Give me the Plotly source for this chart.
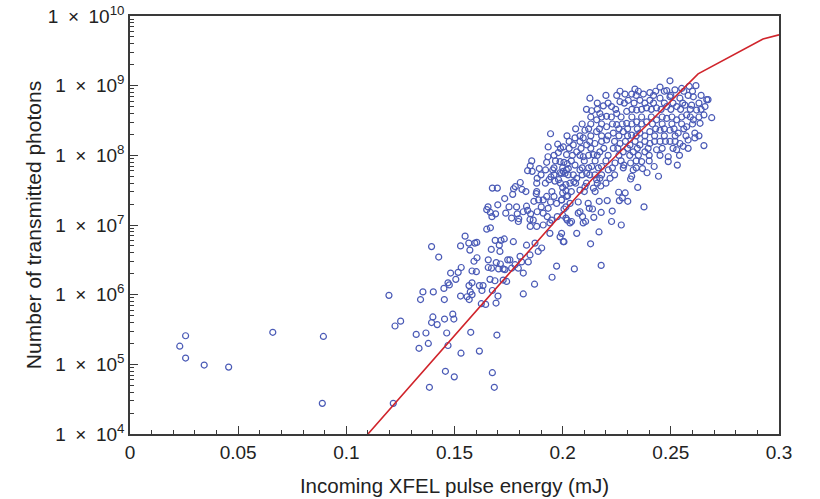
import numpy as np
import plotly.graph_objects as go

# Scatter measurements: pulse energy (mJ) and log10(number of transmitted photons)
energy_mJ = [
    0.0257, 0.0230, 0.0257, 0.0343, 0.0456, 0.0660, 0.0894, 0.0889, 0.1197, 0.1217,
    0.1225, 0.1251, 0.1400, 0.1394, 0.1420, 0.1454, 0.1492, 0.1497, 0.1323, 0.1368,
    0.1464, 0.1575, 0.1696, 0.1336, 0.1379, 0.1470, 0.1530, 0.1615, 0.1458, 0.1499,
    0.1675, 0.1384, 0.1684,
    0.1343, 0.1354, 0.1402, 0.1394, 0.1427, 0.1453, 0.1451, 0.1470, 0.1476, 0.1482,
    0.1506, 0.1517, 0.1531, 0.1528, 0.1528, 0.1549, 0.1571, 0.1566, 0.1594, 0.1603,
    0.1590, 0.1604, 0.1581, 0.1601, 0.1567, 0.1581, 0.1573, 0.1558, 0.1568, 0.1581,
    0.1615, 0.1632, 0.1627, 0.1624, 0.1644, 0.1649, 0.1666, 0.1670, 0.1656, 0.1656,
    0.1671, 0.1664, 0.1687, 0.1675, 0.1701, 0.1692, 0.1688, 0.1707, 0.1715, 0.1730,
    0.1710, 0.1712, 0.1704, 0.1693, 0.1725, 0.1746, 0.1733,
    0.1944, 0.1933, 0.1977, 0.1980, 0.1932, 0.1988, 0.2006, 0.2021, 0.1967, 0.1926,
    0.1857, 0.1850, 0.1838, 0.1859, 0.1892, 0.1882, 0.1921, 0.1954, 0.1946, 0.1937,
    0.1964, 0.1981, 0.1988, 0.2003, 0.2017, 0.2015, 0.2000, 0.2015, 0.2023, 0.1804,
    0.1781, 0.1773, 0.1812, 0.1769, 0.1732, 0.1675, 0.1698, 0.1655, 0.1649, 0.1666,
    0.1673, 0.1690, 0.1700, 0.1737, 0.1752, 0.1787, 0.1790, 0.1797, 0.1833, 0.1838,
    0.1852, 0.1849, 0.1867, 0.1878, 0.1889, 0.1910, 0.1901, 0.1882, 0.1864, 0.1926,
    0.1944, 0.1933, 0.1929, 0.1960, 0.1972, 0.1995, 0.2006, 0.1975, 0.2015, 0.1850,
    0.2000, 0.2018, 0.1995, 0.2015, 0.2034, 0.2000, 0.2021, 0.2041, 0.1995, 0.2006,
    0.2129, 0.2168, 0.2106, 0.2092, 0.2080, 0.2123, 0.2138, 0.2144, 0.2178, 0.2229,
    0.2226, 0.2271, 0.2072, 0.2118, 0.2169, 0.2206, 0.2259, 0.2289, 0.2262, 0.2301,
    0.2276, 0.2347, 0.2376, 0.2052, 0.2034, 0.2080, 0.2103, 0.2142, 0.2176, 0.2172,
    0.2219, 0.2211, 0.2180, 0.2242, 0.2283, 0.2314, 0.2326, 0.2319, 0.2314, 0.2369,
    0.2390, 0.2423, 0.2443, 0.2488, 0.2530, 0.2365, 0.2011, 0.2026, 0.2057, 0.2049,
    0.2111, 0.2134, 0.2149, 0.2157, 0.2080, 0.2065, 0.1995,
    0.2496, 0.2616, 0.2585, 0.2450, 0.2403, 0.2373, 0.2319, 0.2288, 0.2334, 0.2481,
    0.2519, 0.2550, 0.2126, 0.2666, 0.2658, 0.2689, 0.2653, 0.2604, 0.2596, 0.2619,
    0.2188, 0.2134, 0.2226, 0.2265, 0.2303, 0.2357, 0.2403, 0.2450, 0.2496, 0.2542,
    0.2172, 0.2157, 0.2203, 0.2250, 0.2296, 0.2342, 0.2388, 0.2434, 0.2481, 0.2527,
    0.2565, 0.2573, 0.2604, 0.2635, 0.2611, 0.2573, 0.2527, 0.2481, 0.2434, 0.2388,
    0.2342, 0.2296, 0.2250, 0.2203, 0.2157, 0.2103, 0.2095, 0.2057, 0.2049, 0.2065,
    0.2111, 0.2149, 0.2172, 0.2203, 0.2234, 0.2280, 0.2319, 0.2357, 0.2403, 0.2450,
    0.2496, 0.2534, 0.2611, 0.2580, 0.2542, 0.2496, 0.2450, 0.2403, 0.2357, 0.2311,
    0.2265, 0.2234, 0.2280, 0.2326, 0.2380, 0.2434, 0.2488, 0.2527, 0.2557, 0.2653,
    0.2142, 0.2095, 0.2018, 0.2003, 0.2672,
    0.1818, 0.1870, 0.1951, 0.1972, 0.2054, 0.2178, 0.1780, 0.1795, 0.1756, 0.1741,
    0.1725, 0.1818, 0.1810, 0.1841, 0.1887, 0.1872, 0.1903, 0.1833, 0.1772, 0.1849,
    0.1803, 0.1764, 0.1941, 0.1988, 0.2003, 0.1941, 0.1910, 0.1880, 0.1795, 0.1764,
    0.1818, 0.1910, 0.1949, 0.2034, 0.2065, 0.2095, 0.2072,
]
log10_photons = [
    5.41, 5.26, 5.09, 4.99, 4.96, 5.46, 5.40, 4.44, 5.99, 4.44,
    5.55, 5.62, 5.68, 5.60, 5.57, 5.65, 5.72, 5.65, 5.43, 5.45,
    5.45, 5.46, 5.42, 5.23, 5.30, 5.27, 5.16, 5.19, 4.90, 4.82,
    4.88, 4.67, 4.67,
    5.93, 6.04, 6.04, 6.69, 6.54, 5.93, 6.09, 6.17, 6.14, 6.31,
    6.22, 6.32, 6.39, 5.98, 6.70, 6.84, 6.64, 6.74, 6.74, 6.75,
    6.48, 6.53, 6.34, 6.33, 6.13, 6.17, 6.04, 5.97, 5.93, 6.00,
    6.13, 6.13, 6.06, 5.87, 5.86, 6.94, 6.96, 6.65, 6.50, 6.39,
    6.38, 6.22, 6.20, 6.06, 5.98, 5.88, 6.78, 6.71, 6.78, 6.80,
    6.62, 6.44, 6.37, 6.46, 6.37, 6.50, 6.36,
    8.31, 8.12, 8.16, 8.04, 7.98, 7.91, 7.90, 7.88, 7.92, 7.90,
    7.92, 7.85, 7.78, 7.77, 7.81, 7.67, 7.79, 7.79, 7.69, 7.65,
    7.63, 7.65, 7.75, 7.77, 7.79, 7.58, 7.54, 7.49, 7.42, 7.61,
    7.55, 7.52, 7.51, 7.44, 7.38, 7.53, 7.53, 7.26, 7.22, 7.18,
    7.12, 7.16, 7.29, 7.17, 7.26, 7.26, 7.16, 7.09, 7.27, 7.21,
    7.16, 7.08, 7.34, 7.45, 7.36, 7.36, 7.26, 7.19, 7.07, 7.41,
    7.33, 7.24, 7.12, 7.41, 7.31, 7.36, 7.23, 7.12, 7.10, 6.98,
    7.46, 7.41, 7.36, 7.26, 7.31, 7.14, 7.07, 7.05, 6.88, 6.76,
    6.73, 6.90, 7.05, 7.12, 7.19, 7.24, 7.23, 7.11, 7.18, 7.20,
    7.05, 7.00, 7.33, 7.31, 7.34, 7.35, 7.47, 7.46, 7.35, 7.34,
    7.39, 7.54, 7.26, 7.62, 7.60, 7.50, 7.55, 7.53, 7.56, 7.67,
    7.67, 7.79, 7.84, 7.89, 7.86, 7.89, 7.79, 7.70, 7.66, 7.81,
    7.75, 7.84, 7.70, 7.91, 7.86, 7.91, 7.74, 7.81, 7.86, 7.72,
    7.74, 7.84, 7.72, 7.65, 7.79, 7.67, 7.74,
    9.07, 9.00, 8.99, 8.98, 8.90, 8.88, 8.88, 8.88, 8.95, 8.93,
    8.94, 8.96, 8.82, 8.80, 8.70, 8.54, 8.58, 8.84, 8.72, 8.65,
    8.71, 8.64, 8.70, 8.77, 8.79, 8.79, 8.79, 8.82, 8.84, 8.82,
    8.60, 8.51, 8.56, 8.60, 8.63, 8.65, 8.68, 8.68, 8.70, 8.70,
    8.72, 8.58, 8.51, 8.46, 8.32, 8.41, 8.51, 8.53, 8.51, 8.48,
    8.48, 8.46, 8.44, 8.41, 8.34, 8.36, 8.25, 8.25, 8.15, 8.05,
    8.15, 8.17, 8.05, 8.22, 8.32, 8.34, 8.29, 8.32, 8.34, 8.36,
    8.36, 8.32, 8.25, 8.22, 8.17, 8.20, 8.20, 8.17, 8.15, 8.15,
    8.17, 8.10, 8.05, 8.05, 8.05, 8.08, 7.98, 8.08, 8.13, 8.14,
    8.01, 7.98, 8.01, 8.12, 8.80,
    6.01, 6.15, 6.25, 6.41, 6.37, 6.42, 6.43, 6.38, 6.50, 6.19,
    6.21, 6.31, 6.47, 6.47, 6.62, 6.74, 6.67, 6.71, 6.76, 6.57,
    6.55, 6.38, 6.88, 6.83, 6.76, 7.03, 7.00, 6.98, 7.05, 7.10,
    7.19, 7.17, 7.07, 7.03, 6.88, 7.03, 7.17,
]

# Additional shots read from the densely overlapping core of the cloud
core_energy_mJ = [
    0.2265, 0.2350, 0.2430, 0.2470, 0.2560, 0.2600,
    0.2200, 0.2250, 0.2340, 0.2420, 0.2500, 0.2580, 0.2640,
    0.2160, 0.2210, 0.2285, 0.2330, 0.2380, 0.2420, 0.2470, 0.2510, 0.2555, 0.2630,
    0.2110, 0.2160, 0.2245, 0.2320, 0.2365, 0.2410, 0.2455, 0.2500, 0.2545, 0.2590, 0.2640,
    0.2130, 0.2180, 0.2225, 0.2270, 0.2320, 0.2365, 0.2410, 0.2460, 0.2505, 0.2550, 0.2590, 0.2630,
    0.2090, 0.2130, 0.2180, 0.2230, 0.2275, 0.2320, 0.2365, 0.2415, 0.2460, 0.2505, 0.2550, 0.2600,
    0.2060, 0.2120, 0.2170, 0.2260, 0.2300, 0.2345, 0.2430, 0.2470, 0.2515, 0.2560,
    0.2020, 0.2080, 0.2130, 0.2180, 0.2210, 0.2260, 0.2300, 0.2340, 0.2380, 0.2425, 0.2470, 0.2520, 0.2570, 0.2630,
    0.2030, 0.2080, 0.2125, 0.2180, 0.2240, 0.2290, 0.2335, 0.2380, 0.2425, 0.2475, 0.2520,
    0.1990, 0.2030, 0.2085, 0.2130, 0.2190, 0.2255, 0.2300, 0.2345, 0.2395, 0.2460, 0.2510, 0.2580,
    0.1960, 0.2045, 0.2080, 0.2120, 0.2160, 0.2210, 0.2260, 0.2310, 0.2350, 0.2400, 0.2450, 0.2540,
    0.2040, 0.2100, 0.2150, 0.2200, 0.2270, 0.2340, 0.2400,
    0.1960, 0.2000, 0.2090, 0.2120, 0.2165, 0.2230, 0.2280, 0.2340,
    0.1900, 0.1960, 0.2025, 0.2090, 0.2125, 0.2180, 0.2240,
    0.1880, 0.1920, 0.1990, 0.2060, 0.2110, 0.2160, 0.2200,
    0.1830, 0.1880, 0.1950, 0.2040, 0.2100, 0.2150,
]
core_log10_photons = [
    8.92, 8.92, 8.92, 8.92, 8.92, 8.92,
    8.86, 8.86, 8.86, 8.86, 8.86, 8.86, 8.86,
    8.75, 8.75, 8.75, 8.75, 8.75, 8.75, 8.75, 8.75, 8.75, 8.75,
    8.66, 8.66, 8.66, 8.66, 8.66, 8.66, 8.66, 8.66, 8.66, 8.66, 8.66,
    8.55, 8.55, 8.55, 8.55, 8.55, 8.55, 8.55, 8.55, 8.55, 8.55, 8.55, 8.55,
    8.45, 8.45, 8.45, 8.45, 8.45, 8.45, 8.45, 8.45, 8.45, 8.45, 8.45, 8.45,
    8.38, 8.38, 8.38, 8.38, 8.38, 8.38, 8.38, 8.38, 8.38, 8.38,
    8.28, 8.28, 8.28, 8.28, 8.28, 8.28, 8.28, 8.28, 8.28, 8.28, 8.28, 8.28, 8.28, 8.28,
    8.20, 8.20, 8.20, 8.20, 8.20, 8.20, 8.20, 8.20, 8.20, 8.20, 8.20,
    8.10, 8.10, 8.10, 8.10, 8.10, 8.10, 8.10, 8.10, 8.10, 8.10, 8.10, 8.10,
    8.00, 8.00, 8.00, 8.00, 8.00, 8.00, 8.00, 8.00, 8.00, 8.00, 8.00, 8.00,
    7.92, 7.92, 7.92, 7.92, 7.92, 7.92, 7.92,
    7.82, 7.82, 7.82, 7.82, 7.82, 7.82, 7.82, 7.82,
    7.72, 7.72, 7.72, 7.72, 7.72, 7.72, 7.72,
    7.60, 7.60, 7.60, 7.60, 7.60, 7.60, 7.60,
    7.48, 7.48, 7.48, 7.48, 7.48, 7.48,
]

all_energy = list(energy_mJ) + list(core_energy_mJ)
all_photons = np.power(10.0, np.array(list(log10_photons) + list(core_log10_photons)))

# Model curve (red line)
model_energy_mJ = [0.110, 0.2134, 0.2226, 0.2596, 0.2626, 0.2926, 0.300]
model_log10_photons = [4.00, 7.65, 7.93, 9.08, 9.17, 9.67, 9.73]
model_photons = np.power(10.0, np.array(model_log10_photons))

# Axis ticks
x_ticks = [0, 0.05, 0.1, 0.15, 0.2, 0.25, 0.3]
x_tick_labels = ["0", "0.05", "0.1", "0.15", "0.2", "0.25", "0.3"]
y_exponents = [4, 5, 6, 7, 8, 9, 10]
y_ticks = [10.0 ** e for e in y_exponents]
y_tick_labels = ["1\u2002×\u200210<sup>%d</sup>" % e for e in y_exponents]
y_minor = [m * 10.0 ** e for e in y_exponents[:-1] for m in range(2, 10)]

font_family = "Liberation Sans, Arial, Helvetica, sans-serif"
axis_color = "#3a3a3a"

fig = go.Figure()
fig.add_trace(go.Scatter(
    x=all_energy, y=all_photons, mode="markers",
    marker=dict(symbol="circle-open", size=6, color="#4a5ab6", line=dict(width=1.2)),
    showlegend=False, hoverinfo="skip",
))
fig.add_trace(go.Scatter(
    x=model_energy_mJ, y=model_photons, mode="lines",
    line=dict(color="#d0242b", width=1.6),
    showlegend=False, hoverinfo="skip",
))

fig.update_layout(
    width=820, height=499,
    margin=dict(l=130, r=41, t=16, b=65),
    paper_bgcolor="white", plot_bgcolor="white",
    font=dict(family=font_family, size=19, color="#222222"),
)
fig.update_xaxes(
    automargin=False,
    range=[0, 0.3], tickvals=x_ticks, ticktext=x_tick_labels,
    ticks="inside", ticklen=8, tickwidth=1.3, tickcolor=axis_color,
    showline=True, linecolor=axis_color, linewidth=1.5, mirror=True,
    showgrid=False, zeroline=False,
    minor=dict(ticks="inside", ticklen=4, tickwidth=1, tickcolor=axis_color, dtick=0.01, showgrid=False),
    title=dict(text="Incoming XFEL pulse energy (mJ)", standoff=17, font=dict(size=20.5)),
    tickfont=dict(size=19),
)
fig.update_yaxes(
    automargin=False,
    type="log", range=[4, 10], tickvals=y_ticks, ticktext=y_tick_labels,
    ticks="inside", ticklen=8, tickwidth=1.3, tickcolor=axis_color,
    showline=True, linecolor=axis_color, linewidth=1.5, mirror=True,
    showgrid=False, zeroline=False,
    minor=dict(ticks="inside", ticklen=4, tickwidth=1, tickcolor=axis_color, tickvals=y_minor, showgrid=False),
    title=dict(text="Number of transmitted photons", standoff=1, font=dict(size=21)),
    tickfont=dict(size=19),
)

fig.write_html("out.html")
